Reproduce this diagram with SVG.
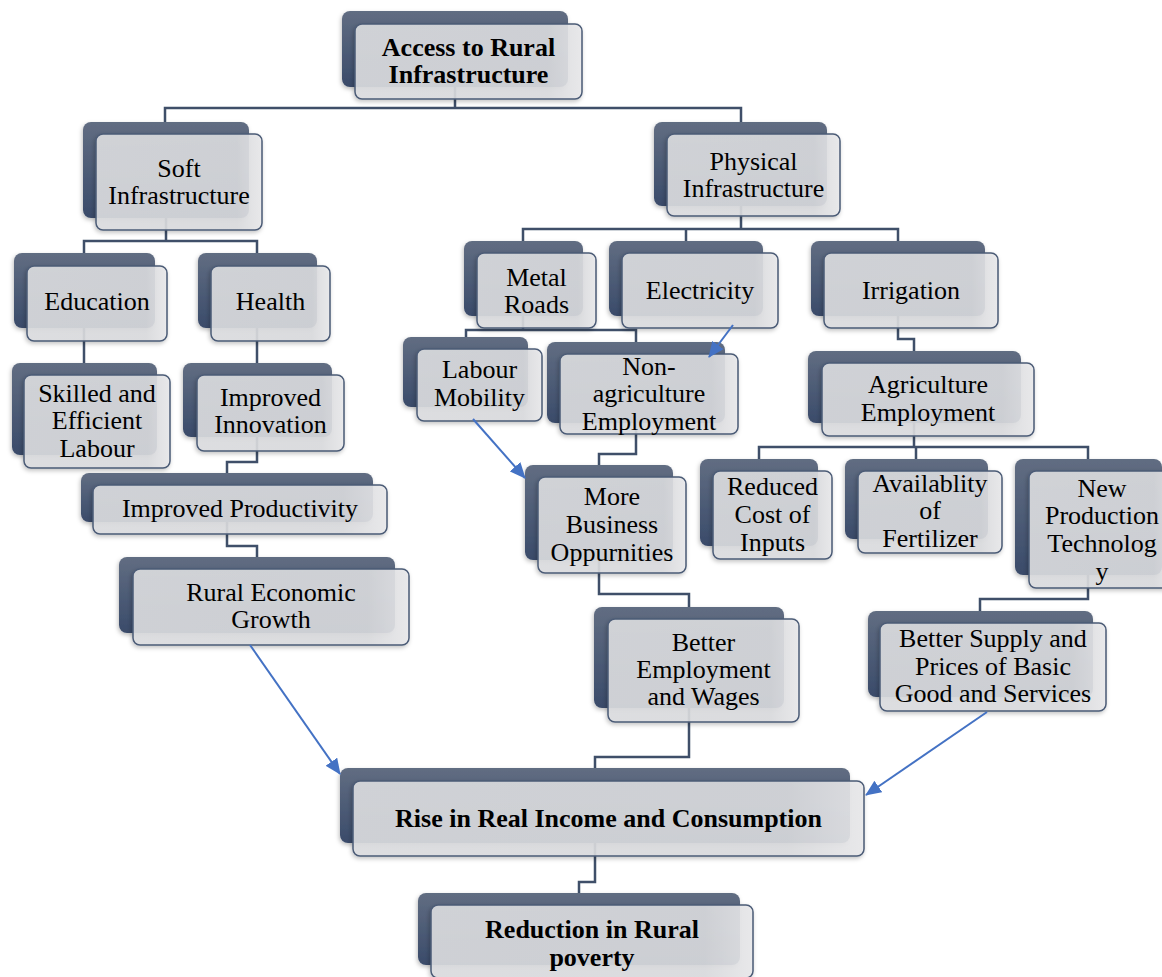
<svg xmlns="http://www.w3.org/2000/svg" width="1162" height="977" viewBox="0 0 1162 977">
<defs>
<linearGradient id="gBack" x1="0" y1="0" x2="0" y2="1">
<stop offset="0" stop-color="#616d82"/>
<stop offset="1" stop-color="#3a4b6a"/>
</linearGradient>
<linearGradient id="gFront" x1="0" y1="0" x2="1" y2="0">
<stop offset="0" stop-color="#dcdde0"/>
<stop offset="0.85" stop-color="#dadbde"/>
<stop offset="1" stop-color="#e9e9eb"/>
</linearGradient>
<filter id="sh" x="-10%" y="-10%" width="130%" height="130%">
<feDropShadow dx="-1" dy="2" stdDeviation="2" flood-color="#000" flood-opacity="0.25"/>
</filter>
<marker id="ah" markerUnits="userSpaceOnUse" markerWidth="16" markerHeight="14" refX="15" refY="7" orient="auto">
<path d="M0,0 L16,7 L0,14 Z" fill="#4472c4"/>
</marker>
<style>
.back{fill:url(#gBack);filter:url(#sh);}
.front{fill:url(#gFront);fill-opacity:0.9;stroke:#4b5b76;stroke-width:1.5;filter:url(#sh);}
.t{font-family:"Liberation Serif","Times New Roman",serif;font-size:26px;fill:#000;text-anchor:middle;}
.b{font-weight:bold;}
.ln{fill:none;stroke:#3f4f69;stroke-width:2.5;}
.ar{fill:none;stroke:#4472c4;stroke-width:2;marker-end:url(#ah);}
</style>
</defs>
<rect width="1162" height="977" fill="#fff"/>

<g id="connectors">
<path class="ln" d="M455,87 V108 M165,122 V108 H741 V122"/>
<path class="ln" d="M741,206 V229 M523,241 V229 H898 V241 M686,229 V241"/>
<path class="ln" d="M166,218 V241 M84,253 V241 H257 V253"/>
<path class="ln" d="M84,328 V363"/>
<path class="ln" d="M257,328 V363"/>
<path class="ln" d="M257,437 V462 H227 V473"/>
<path class="ln" d="M227,522 V546 H257 V557"/>
<path class="ln" d="M523,316 V330 M466,337 V330 H636 V342"/>
<path class="ln" d="M898,316 V339 H914 V351"/>
<path class="ln" d="M914,423 V447 M759,459 V447 H1088 V459 M916,447 V459"/>
<path class="ln" d="M636,423 V454 H599 V465"/>
<path class="ln" d="M599,560 V594 H689 V607"/>
<path class="ln" d="M1088,575 V599 H980 V611"/>
<path class="ln" d="M689,708 V757 H595 V768"/>
<path class="ln" d="M595,843 V882 H579 V893"/>
</g>

<g id="n-access">
<rect class="back" x="342" y="11" width="226" height="76" rx="8"/>
<rect class="front" x="355" y="24" width="227" height="75" rx="7"/>
<text class="t b" x="468.5" y="56">Access to Rural</text>
<text class="t b" x="468.5" y="83">Infrastructure</text>
</g>

<g id="n-soft">
<rect class="back" x="83" y="122" width="166" height="96" rx="8"/>
<rect class="front" x="96" y="134" width="166" height="96" rx="7"/>
<text class="t" x="179" y="177">Soft</text>
<text class="t" x="179" y="204">Infrastructure</text>
</g>

<g id="n-physical">
<rect class="back" x="654" y="122" width="173" height="84" rx="8"/>
<rect class="front" x="667" y="134" width="173" height="82" rx="7"/>
<text class="t" x="753.5" y="170">Physical</text>
<text class="t" x="753.5" y="197">Infrastructure</text>
</g>

<g id="n-education">
<rect class="back" x="14" y="253" width="141" height="75" rx="8"/>
<rect class="front" x="27" y="266" width="140" height="75" rx="7"/>
<text class="t" x="97" y="310">Education</text>
</g>

<g id="n-health">
<rect class="back" x="198" y="253" width="119" height="75" rx="8"/>
<rect class="front" x="211" y="266" width="119" height="75" rx="7"/>
<text class="t" x="270.5" y="310">Health</text>
</g>

<g id="n-skilled">
<rect class="back" x="12" y="363" width="145" height="92" rx="8"/>
<rect class="front" x="24" y="375" width="146" height="93" rx="7"/>
<text class="t" x="97" y="402">Skilled and</text>
<text class="t" x="97" y="429">Efficient</text>
<text class="t" x="97" y="457">Labour</text>
</g>

<g id="n-innovation">
<rect class="back" x="183" y="363" width="149" height="74" rx="8"/>
<rect class="front" x="197" y="375" width="147" height="76" rx="7"/>
<text class="t" x="270.5" y="406">Improved</text>
<text class="t" x="270.5" y="433">Innovation</text>
</g>

<g id="n-productivity">
<rect class="back" x="81" y="473" width="292" height="49" rx="8"/>
<rect class="front" x="93" y="485" width="294" height="49" rx="7"/>
<text class="t" x="240" y="517">Improved Productivity</text>
</g>

<g id="n-growth">
<rect class="back" x="119" y="557" width="276" height="76" rx="8"/>
<rect class="front" x="133" y="569" width="276" height="76" rx="7"/>
<text class="t" x="271" y="601">Rural Economic</text>
<text class="t" x="271" y="628">Growth</text>
</g>

<g id="n-metal">
<rect class="back" x="464" y="241" width="119" height="75" rx="8"/>
<rect class="front" x="477" y="253" width="119" height="75" rx="7"/>
<text class="t" x="536.5" y="286">Metal</text>
<text class="t" x="536.5" y="313">Roads</text>
</g>

<g id="n-electricity">
<rect class="back" x="609" y="241" width="154" height="75" rx="8"/>
<rect class="front" x="622" y="253" width="156" height="75" rx="7"/>
<text class="t" x="700" y="299">Electricity</text>
</g>

<g id="n-irrigation">
<rect class="back" x="811" y="241" width="174" height="75" rx="8"/>
<rect class="front" x="824" y="253" width="174" height="75" rx="7"/>
<text class="t" x="911" y="299">Irrigation</text>
</g>

<g id="n-labour">
<rect class="back" x="403" y="337" width="125" height="70" rx="8"/>
<rect class="front" x="417" y="349" width="125" height="72" rx="7"/>
<text class="t" x="479.5" y="378">Labour</text>
<text class="t" x="479.5" y="406">Mobility</text>
</g>

<g id="n-nonagri">
<rect class="back" x="547" y="342" width="178" height="81" rx="8"/>
<rect class="front" x="560" y="354" width="178" height="80" rx="7"/>
<text class="t" x="649" y="375">Non-</text>
<text class="t" x="649" y="402">agriculture</text>
<text class="t" x="649" y="430">Employment</text>
</g>

<g id="n-agri">
<rect class="back" x="808" y="351" width="213" height="72" rx="8"/>
<rect class="front" x="822" y="363" width="212" height="73" rx="7"/>
<text class="t" x="928" y="393">Agriculture</text>
<text class="t" x="928" y="421">Employment</text>
</g>

<g id="n-business">
<rect class="back" x="525" y="465" width="148" height="95" rx="8"/>
<rect class="front" x="538" y="477" width="148" height="96" rx="7"/>
<text class="t" x="612" y="505">More</text>
<text class="t" x="612" y="533">Business</text>
<text class="t" x="612" y="561">Oppurnities</text>
</g>

<g id="n-reduced">
<rect class="back" x="700" y="459" width="118" height="87" rx="8"/>
<rect class="front" x="713" y="471" width="119" height="88" rx="7"/>
<text class="t" x="772.5" y="495">Reduced</text>
<text class="t" x="772.5" y="523">Cost of</text>
<text class="t" x="772.5" y="551">Inputs</text>
</g>

<g id="n-fertilizer">
<rect class="back" x="845" y="459" width="143" height="80" rx="8"/>
<rect class="front" x="858" y="471" width="144" height="82" rx="7"/>
<text class="t" x="930" y="492">Availablity</text>
<text class="t" x="930" y="519">of</text>
<text class="t" x="930" y="547">Fertilizer</text>
</g>

<g id="n-newtech">
<rect class="back" x="1015" y="459" width="147" height="116" rx="8"/>
<rect class="front" x="1029" y="471" width="147" height="117" rx="7"/>
<text class="t" x="1102" y="497">New</text>
<text class="t" x="1102" y="524">Production</text>
<text class="t" x="1102" y="552">Technolog</text>
<text class="t" x="1102" y="580">y</text>
</g>

<g id="n-supply">
<rect class="back" x="868" y="611" width="225" height="86" rx="8"/>
<rect class="front" x="880" y="623" width="226" height="88" rx="7"/>
<text class="t" x="993" y="647">Better Supply and</text>
<text class="t" x="993" y="675">Prices of Basic</text>
<text class="t" x="993" y="702">Good and Services</text>
</g>

<g id="n-betteremp">
<rect class="back" x="594" y="607" width="190" height="101" rx="8"/>
<rect class="front" x="608" y="619" width="191" height="103" rx="7"/>
<text class="t" x="703.5" y="651">Better</text>
<text class="t" x="703.5" y="678">Employment</text>
<text class="t" x="703.5" y="705">and Wages</text>
</g>

<g id="n-rise">
<rect class="back" x="340" y="768" width="510" height="75" rx="8"/>
<rect class="front" x="353" y="781" width="511" height="75" rx="7"/>
<text class="t b" x="608.5" y="827">Rise in Real Income and Consumption</text>
</g>

<g id="n-reduction">
<rect class="back" x="418" y="893" width="322" height="72" rx="8"/>
<rect class="front" x="431" y="905" width="322" height="73" rx="7"/>
<text class="t b" x="592" y="938">Reduction in Rural</text>
<text class="t b" x="592" y="966">poverty</text>
</g>

<g id="arrows">
<path class="ar" d="M250,645 L340,774"/>
<path class="ar" d="M987,712 L866,795"/>
<path class="ar" d="M733,325 L709,357"/>
<path class="ar" d="M473,419 L525,478"/>
</g>
</svg>
